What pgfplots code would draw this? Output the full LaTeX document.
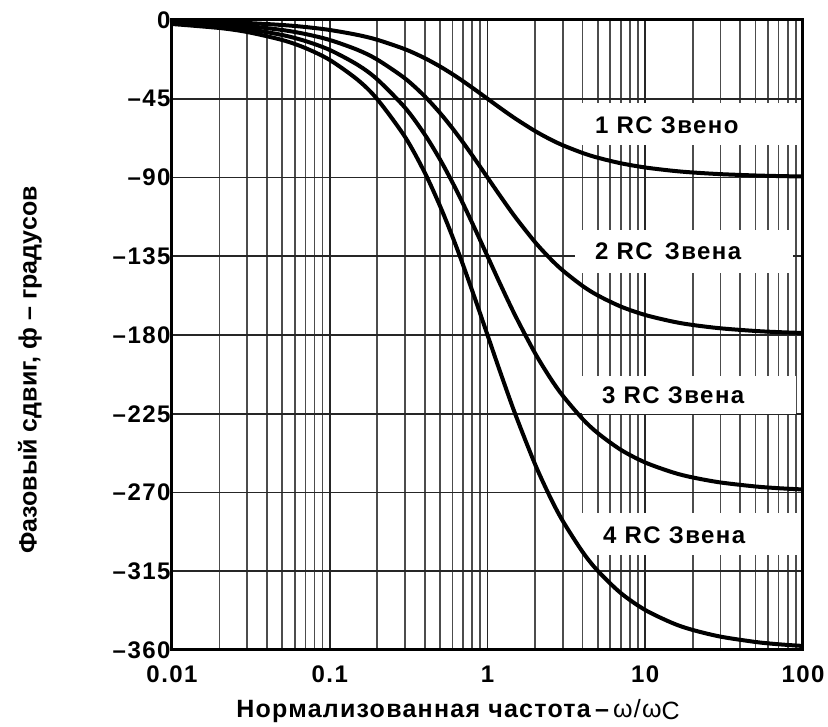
\documentclass[border=0pt]{standalone}
\usepackage{pgfplots}
\pgfplotsset{compat=1.18}
\usepackage{fontspec}
\setmainfont{Liberation Sans}
\begin{document}
\begin{tikzpicture}[x=1pt,y=1pt]
\begin{axis}[
  scale only axis,
  width=631pt, height=630pt,
  xmode=log,
  xmin=0.01, xmax=100,
  ymin=-360, ymax=0,
  xtick={0.01,0.1,1,10,100},
  xticklabels={0.01,0.1,1,10,100},
  ytick={0,-45,-90,-135,-180,-225,-270,-315,-360},
  yticklabels={0,\textendash45,\textendash90,\textendash135,\textendash180,\textendash225,\textendash270,\textendash315,\textendash360},
  major tick length=0pt, minor tick length=0pt,
  xmajorgrids=true, xminorgrids=true, ymajorgrids=true,
  major grid style={black!85, line width=1.8pt},
  minor grid style={black!70, line width=1.6pt},
  axis line style={black, line width=3pt},
  tick label style={font=\fontsize{24}{26}\selectfont\bfseries\addfontfeature{LetterSpace=6}},
  yticklabel style={xshift=2pt},
  xticklabel style={yshift=-12pt},
  clip=false,
]
% white label boxes (px -> rel axis)
\fill[white] (rel axis cs:0.6418,0.8683) rectangle (rel axis cs:0.9921,0.8016);
\fill[white] (rel axis cs:0.6387,0.6667) rectangle (rel axis cs:0.9842,0.5984);
\fill[white] (rel axis cs:0.6498,0.4349) rectangle (rel axis cs:0.9890,0.3746);
\fill[white] (rel axis cs:0.6418,0.2175) rectangle (rel axis cs:0.9921,0.1508);
\tikzset{lab/.style={anchor=west, inner sep=0pt, font=\fontsize{24}{26}\selectfont\bfseries\addfontfeature{LetterSpace=6}}}
\node[lab] at (rel axis cs:0.6704,0.8333) {1 RC Звено};
\node[lab] at (rel axis cs:0.6704,0.6333) {2 RC\, Звена};
\node[lab] at (rel axis cs:0.6815,0.4048) {3 RC Звена};
\node[lab] at (rel axis cs:0.6830,0.1825) {4 RC Звена};
\addplot[black, line width=4pt, smooth] coordinates {
(0.01,-0.573)(0.02,-1.146)(0.03,-1.718)(0.05,-2.862)(0.07,-4.004)(0.1,-5.711)(0.15,-8.531)(0.2,-11.310)(0.3,-16.699)(0.4,-21.801)(0.5,-26.565)(0.6,-30.964)(0.7,-34.992)(0.85,-40.365)(1,-45)(1.2,-50.194)(1.5,-56.310)(2,-63.435)(2.5,-68.199)(3,-71.565)(4,-75.964)(5,-78.690)(7,-81.870)(10,-84.289)(15,-86.186)(20,-87.138)(30,-88.091)(50,-88.854)(70,-89.182)(100,-89.427)};
\addplot[black, line width=4pt, smooth] coordinates {
(0.01,-1.146)(0.02,-2.292)(0.03,-3.436)(0.05,-5.724)(0.07,-8.008)(0.1,-11.422)(0.15,-17.062)(0.2,-22.620)(0.3,-33.398)(0.4,-43.602)(0.5,-53.130)(0.6,-61.928)(0.7,-69.984)(0.85,-80.730)(1,-90)(1.2,-100.388)(1.5,-112.620)(2,-126.870)(2.5,-136.398)(3,-143.130)(4,-151.928)(5,-157.380)(7,-163.740)(10,-168.578)(15,-172.372)(20,-174.276)(30,-176.182)(50,-177.708)(70,-178.364)(100,-178.854)};
\addplot[black, line width=4pt, smooth] coordinates {
(0.01,-1.719)(0.02,-3.438)(0.03,-5.154)(0.05,-8.586)(0.07,-12.012)(0.1,-17.133)(0.15,-25.593)(0.2,-33.930)(0.3,-50.097)(0.4,-65.403)(0.5,-79.695)(0.6,-92.892)(0.7,-104.976)(0.85,-121.095)(1,-135)(1.2,-150.582)(1.5,-168.930)(2,-190.305)(2.5,-204.597)(3,-214.695)(4,-227.892)(5,-236.070)(7,-245.610)(10,-252.867)(15,-258.558)(20,-261.414)(30,-264.273)(50,-266.562)(70,-267.546)(100,-268.281)};
\addplot[black, line width=4pt, smooth] coordinates {
(0.01,-2.292)(0.02,-4.584)(0.03,-6.872)(0.05,-11.448)(0.07,-16.016)(0.1,-22.844)(0.15,-34.124)(0.2,-45.240)(0.3,-66.796)(0.4,-87.204)(0.5,-106.260)(0.6,-123.856)(0.7,-139.968)(0.85,-161.460)(1,-180)(1.2,-200.776)(1.5,-225.240)(2,-253.740)(2.5,-272.796)(3,-286.260)(4,-303.856)(5,-314.760)(7,-327.480)(10,-337.156)(15,-344.744)(20,-348.552)(30,-352.364)(50,-355.416)(70,-356.728)(100,-357.708)};
\end{axis}
\node[font=\fontsize{25}{28}\selectfont\bfseries\addfontfeature{LetterSpace=5}] at (286,-61) {Нормализованная частота\,\textendash\,{\mdseries ω/ω\raisebox{-0.15ex}{C}}};
\node[font=\fontsize{25}{28}\selectfont\bfseries, rotate=90] at (-142,280) {Фазовый сдвиг, ф \textendash\ градусов};
\path (-172,-77) rectangle (656,650);
\end{tikzpicture}
\end{document}
